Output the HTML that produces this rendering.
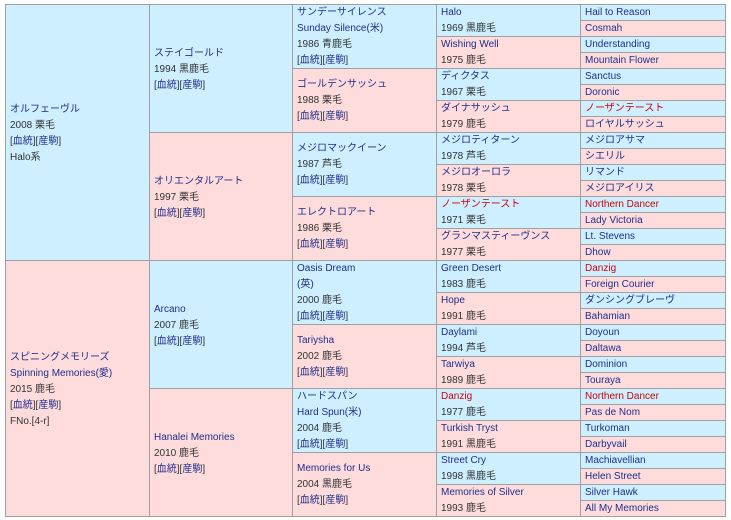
<!DOCTYPE html>
<html><head><meta charset="utf-8"><style>
html,body{margin:0;padding:0;background:#fff;width:731px;height:520px;overflow:hidden}
body{font-family:"Liberation Sans","Noto Sans CJK JP",sans-serif;font-size:10px;color:#333}
.c{position:absolute;box-sizing:border-box;border:1px solid #a0a0a0;display:flex;flex-direction:column;justify-content:center;padding-left:4px;line-height:16px;white-space:nowrap;overflow:hidden}
.b{background:#cdefff}.p{background:#ffdcdc}
a{color:#1f2e8c;text-decoration:none}.r{color:#d00000}
.k1{left:5px;width:145px;padding-top:3px}.k2{left:149px;width:144px;padding-top:3px}.k3{left:292px;width:145px}.k4{left:436px;width:145px}.k5{left:580px;width:146px}
.h1{height:257px}.h2{height:129px}.h3{height:65px}.h4{height:33px}.h5{height:17px}
</style></head><body>
<div class="c k1 h1 b" style="top:4px"><a>オルフェーヴル</a><span>2008 栗毛</span><span>[<a>血統</a>][<a>産駒</a>]</span><span>Halo系</span></div>
<div class="c k1 h1 p" style="top:260px"><a>スピニングメモリーズ</a><a>Spinning Memories(愛)</a><span>2015 鹿毛</span><span>[<a>血統</a>][<a>産駒</a>]</span><span>FNo.[4-r]</span></div>

<div class="c k2 h2 b" style="top:4px"><a>ステイゴールド</a><span>1994 黒鹿毛</span><span>[<a>血統</a>][<a>産駒</a>]</span></div>
<div class="c k2 h2 p" style="top:132px"><a>オリエンタルアート</a><span>1997 栗毛</span><span>[<a>血統</a>][<a>産駒</a>]</span></div>
<div class="c k2 h2 b" style="top:260px"><a>Arcano</a><span>2007 鹿毛</span><span>[<a>血統</a>][<a>産駒</a>]</span></div>
<div class="c k2 h2 p" style="top:388px"><a>Hanalei Memories</a><span>2010 鹿毛</span><span>[<a>血統</a>][<a>産駒</a>]</span></div>

<div class="c k3 h3 b" style="top:4px"><a>サンデーサイレンス</a><a>Sunday Silence(米)</a><span>1986 青鹿毛</span><span>[<a>血統</a>][<a>産駒</a>]</span></div>
<div class="c k3 h3 p" style="top:68px"><a>ゴールデンサッシュ</a><span>1988 栗毛</span><span>[<a>血統</a>][<a>産駒</a>]</span></div>
<div class="c k3 h3 b" style="top:132px"><a>メジロマックイーン</a><span>1987 芦毛</span><span>[<a>血統</a>][<a>産駒</a>]</span></div>
<div class="c k3 h3 p" style="top:196px"><a>エレクトロアート</a><span>1986 栗毛</span><span>[<a>血統</a>][<a>産駒</a>]</span></div>
<div class="c k3 h3 b" style="top:260px"><a>Oasis Dream</a><a>(英)</a><span>2000 鹿毛</span><span>[<a>血統</a>][<a>産駒</a>]</span></div>
<div class="c k3 h3 p" style="top:324px"><a>Tariysha</a><span>2002 鹿毛</span><span>[<a>血統</a>][<a>産駒</a>]</span></div>
<div class="c k3 h3 b" style="top:388px"><a>ハードスパン</a><a>Hard Spun(米)</a><span>2004 鹿毛</span><span>[<a>血統</a>][<a>産駒</a>]</span></div>
<div class="c k3 h3 p" style="top:452px"><a>Memories for Us</a><span>2004 黒鹿毛</span><span>[<a>血統</a>][<a>産駒</a>]</span></div>

<div class="c k4 h4 b" style="top:4px"><a>Halo</a><span>1969 黒鹿毛</span></div>
<div class="c k4 h4 p" style="top:36px"><a>Wishing Well</a><span>1975 鹿毛</span></div>
<div class="c k4 h4 b" style="top:68px"><a>ディクタス</a><span>1967 栗毛</span></div>
<div class="c k4 h4 p" style="top:100px"><a>ダイナサッシュ</a><span>1979 鹿毛</span></div>
<div class="c k4 h4 b" style="top:132px"><a>メジロティターン</a><span>1978 芦毛</span></div>
<div class="c k4 h4 p" style="top:164px"><a>メジロオーロラ</a><span>1978 栗毛</span></div>
<div class="c k4 h4 b" style="top:196px"><a class="r">ノーザンテースト</a><span>1971 栗毛</span></div>
<div class="c k4 h4 p" style="top:228px"><a>グランマスティーヴンス</a><span>1977 栗毛</span></div>
<div class="c k4 h4 b" style="top:260px"><a>Green Desert</a><span>1983 鹿毛</span></div>
<div class="c k4 h4 p" style="top:292px"><a>Hope</a><span>1991 鹿毛</span></div>
<div class="c k4 h4 b" style="top:324px"><a>Daylami</a><span>1994 芦毛</span></div>
<div class="c k4 h4 p" style="top:356px"><a>Tarwiya</a><span>1989 鹿毛</span></div>
<div class="c k4 h4 b" style="top:388px"><a class="r">Danzig</a><span>1977 鹿毛</span></div>
<div class="c k4 h4 p" style="top:420px"><a>Turkish Tryst</a><span>1991 黒鹿毛</span></div>
<div class="c k4 h4 b" style="top:452px"><a>Street Cry</a><span>1998 黒鹿毛</span></div>
<div class="c k4 h4 p" style="top:484px"><a>Memories of Silver</a><span>1993 鹿毛</span></div>

<div class="c k5 h5 b" style="top:4px"><a>Hail to Reason</a></div>
<div class="c k5 h5 p" style="top:20px"><a>Cosmah</a></div>
<div class="c k5 h5 b" style="top:36px"><a>Understanding</a></div>
<div class="c k5 h5 p" style="top:52px"><a>Mountain Flower</a></div>
<div class="c k5 h5 b" style="top:68px"><a>Sanctus</a></div>
<div class="c k5 h5 p" style="top:84px"><a>Doronic</a></div>
<div class="c k5 h5 b" style="top:100px"><a class="r">ノーザンテースト</a></div>
<div class="c k5 h5 p" style="top:116px"><a>ロイヤルサッシュ</a></div>
<div class="c k5 h5 b" style="top:132px"><a>メジロアサマ</a></div>
<div class="c k5 h5 p" style="top:148px"><a>シエリル</a></div>
<div class="c k5 h5 b" style="top:164px"><a>リマンド</a></div>
<div class="c k5 h5 p" style="top:180px"><a>メジロアイリス</a></div>
<div class="c k5 h5 b" style="top:196px"><a class="r">Northern Dancer</a></div>
<div class="c k5 h5 p" style="top:212px"><a>Lady Victoria</a></div>
<div class="c k5 h5 b" style="top:228px"><a>Lt. Stevens</a></div>
<div class="c k5 h5 p" style="top:244px"><a>Dhow</a></div>
<div class="c k5 h5 b" style="top:260px"><a class="r">Danzig</a></div>
<div class="c k5 h5 p" style="top:276px"><a>Foreign Courier</a></div>
<div class="c k5 h5 b" style="top:292px"><a>ダンシングブレーヴ</a></div>
<div class="c k5 h5 p" style="top:308px"><a>Bahamian</a></div>
<div class="c k5 h5 b" style="top:324px"><a>Doyoun</a></div>
<div class="c k5 h5 p" style="top:340px"><a>Daltawa</a></div>
<div class="c k5 h5 b" style="top:356px"><a>Dominion</a></div>
<div class="c k5 h5 p" style="top:372px"><a>Touraya</a></div>
<div class="c k5 h5 b" style="top:388px"><a class="r">Northern Dancer</a></div>
<div class="c k5 h5 p" style="top:404px"><a>Pas de Nom</a></div>
<div class="c k5 h5 b" style="top:420px"><a>Turkoman</a></div>
<div class="c k5 h5 p" style="top:436px"><a>Darbyvail</a></div>
<div class="c k5 h5 b" style="top:452px"><a>Machiavellian</a></div>
<div class="c k5 h5 p" style="top:468px"><a>Helen Street</a></div>
<div class="c k5 h5 b" style="top:484px"><a>Silver Hawk</a></div>
<div class="c k5 h5 p" style="top:500px"><a>All My Memories</a></div>
</body></html>
